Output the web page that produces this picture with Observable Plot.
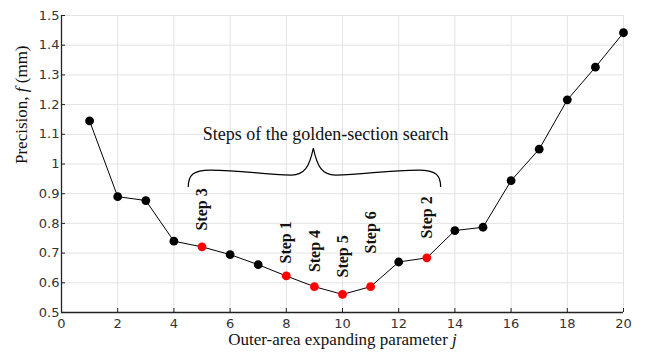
<!DOCTYPE html>
<html>
<head>
<meta charset="utf-8">
<script src="https://cdn.jsdelivr.net/npm/d3@7"></script>
<script src="https://cdn.jsdelivr.net/npm/@observablehq/plot@0.6"></script>
<style>
  html, body { margin: 0; padding: 0; background: #fff; }
</style>
</head>
<body>
<div id="chart"></div>
<script>
// ---- data ----
const jValues = [1, 2, 3, 4, 5, 6, 7, 8, 9, 10, 11, 12, 13, 14, 15, 16, 17, 18, 19, 20];
const precision = [1.145, 0.890, 0.877, 0.740, 0.721, 0.695, 0.661, 0.623, 0.587, 0.561,
                   0.587, 0.670, 0.684, 0.776, 0.787, 0.944, 1.050, 1.216, 1.326, 1.442];
const searchSteps = [5, 8, 9, 10, 11, 13];           // red points (golden-section steps)
const stepLabels = ["Step 3", "Step 1", "Step 4", "Step 5", "Step 6", "Step 2"];
const stepLabelJ = [5, 8, 9, 10, 11, 13];
const stepLabelY = [0.776, 0.665, 0.636, 0.618, 0.699, 0.749];
const xTicks = [0, 2, 4, 6, 8, 10, 12, 14, 16, 18, 20];
const yTicks = [0.5, 0.6, 0.7, 0.8, 0.9, 1, 1.1, 1.2, 1.3, 1.4, 1.5];
const braceText = "Steps of the golden-section search";
const braceSpan = {x1: 4.53, x2: 13.51, xTip: 8.98, yEnd: 0.921, yArm: 0.978, yMid: 0.961, yTip: 1.052};
const braceTextPos = {x: 9.4, y: 1.099};
const yLabelParts = [["Precision, ", false], ["f", true], [" (mm)", false]];
const xLabelParts = [["Outer-area expanding parameter ", false], ["j", true]];

const points = jValues.map((j, i) => ({j, f: precision[i], step: searchSteps.includes(j)}));
const labels = stepLabels.map((t, i) => ({t, j: stepLabelJ[i], y: stepLabelY[i]}));

const serif = "'Liberation Serif', 'Times New Roman', serif";
const sans = "'DejaVu Sans', Verdana, sans-serif";

function brace(b) {
  return (index, scales) => {
    const L = scales.x(b.x1), R = scales.x(b.x2), M = scales.x(b.xTip);
    const yb = scales.y(b.yEnd), ya = scales.y(b.yArm), ym = scales.y(b.yMid), yt = scales.y(b.yTip);
    const d = [
      `M${L},${yb}`,
      `C${L},${ya + 5} ${L + 5},${ya} ${L + 22},${ya}`,
      `C${L + 55},${ya} ${M - 50},${ym} ${M - 22},${ym}`,
      `C${M - 9},${ym} ${M - 4},${ym - 8} ${M},${yt}`,
      `C${M + 4},${ym - 8} ${M + 9},${ym} ${M + 22},${ym}`,
      `C${M + 50},${ym} ${R - 55},${ya} ${R - 22},${ya}`,
      `C${R - 5},${ya} ${R},${ya + 5} ${R},${yb}`
    ].join(" ");
    const p = d3.create("svg:path")
      .attr("d", d).attr("fill", "none").attr("stroke", "#000").attr("stroke-width", 1.2);
    return p.node();
  };
}

const yLabelText = yLabelParts.map(p => p[0]).join("");
const xLabelText = xLabelParts.map(p => p[0]).join("");

const chart = Plot.plot({
  width: 646,
  height: 353,
  marginLeft: 61,
  marginRight: 23,
  marginTop: 15,
  marginBottom: 41,
  style: {background: "#fff", overflow: "visible"},
  x: {domain: [0, 20], ticks: xTicks},
  y: {domain: [0.5, 1.5], ticks: yTicks},
  marks: [
    Plot.gridX(xTicks, {stroke: "#e3e3e3", strokeOpacity: 1, strokeWidth: 1}),
    Plot.gridY(yTicks, {stroke: "#e3e3e3", strokeOpacity: 1, strokeWidth: 1}),
    Plot.axisX(xTicks, {tickSize: 0, tickPadding: 6, fontSize: 13, fontFamily: sans, fill: "#333", label: null, tickFormat: d => String(d)}),
    Plot.axisY(yTicks, {tickSize: 0, tickPadding: 2, fontSize: 13, fontFamily: sans, fill: "#333", label: null, tickFormat: d => String(d)}),
    Plot.axisX(xTicks, {tickSize: -4, text: null, label: null, stroke: "#222"}),
    Plot.axisY(yTicks, {tickSize: -4, text: null, label: null, stroke: "#222"}),
    Plot.ruleX([0], {stroke: "#222", strokeWidth: 1.3}),
    Plot.ruleY([0.5], {stroke: "#222", strokeWidth: 1.3}),
    Plot.line(points, {x: "j", y: "f", stroke: "#000", strokeWidth: 1}),
    Plot.dot(points, {x: "j", y: "f", r: 4.4, fill: d => d.step ? "#ff0000" : "#000", stroke: "none"}),
    Plot.text(labels, {x: "j", y: "y", text: "t", rotate: -90, textAnchor: "start", fontSize: 16, fontWeight: "bold", fontFamily: serif, fill: "#111"}),
    brace(braceSpan),
    Plot.text([braceText], {x: braceTextPos.x, y: braceTextPos.y, text: d => d, fontSize: 18, fontFamily: serif, fill: "#111"}),
    Plot.text([yLabelText], {frameAnchor: "left", dx: -40, rotate: -90, text: d => d, fontSize: 17, fontFamily: serif, fill: "#111"}),
    Plot.text([xLabelText], {frameAnchor: "bottom", dy: 32, text: d => d, fontSize: 17, fontFamily: serif, fill: "#111"})
  ]
});

document.getElementById("chart").appendChild(chart);

function richLabel(full, parts) {
  d3.select(chart).selectAll("text").each(function () {
    if (this.textContent !== full) return;
    const t = d3.select(this);
    t.text(null);
    for (const [s, it] of parts) {
      const ts = t.append("tspan").text(s);
      if (it) ts.attr("font-style", "italic");
    }
  });
}
richLabel(yLabelText, yLabelParts);
richLabel(xLabelText, xLabelParts);
</script>
</body>
</html>
